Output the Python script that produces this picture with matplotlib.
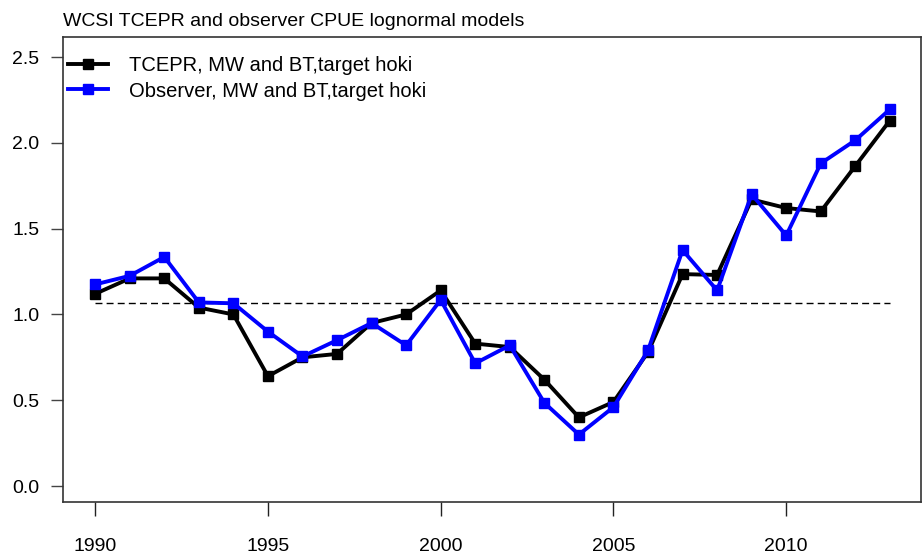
#!/usr/bin/env python3
import numpy as np
import matplotlib
matplotlib.use("Agg")
import matplotlib.pyplot as plt
from matplotlib.ticker import FormatStrFormatter

years = list(range(1990, 2014))

# TCEPR index, MW and BT, target hoki
tcepr = [1.12, 1.21, 1.21, 1.04, 1.00, 0.64, 0.75, 0.77, 0.95, 1.00, 1.14, 0.83,
         0.81, 0.62, 0.40, 0.49, 0.78, 1.235, 1.23, 1.67, 1.62, 1.60, 1.865, 2.13]
# Observer index, MW and BT, target hoki
observer = [1.175, 1.225, 1.335, 1.07, 1.065, 0.90, 0.755, 0.85, 0.95, 0.82, 1.085, 0.715,
            0.82, 0.485, 0.30, 0.46, 0.79, 1.375, 1.14, 1.70, 1.46, 1.88, 2.015, 2.195]
ref_level = 1.067

series_labels = ["TCEPR, MW and BT,target hoki", "Observer, MW and BT,target hoki"]
title = "WCSI TCEPR and observer CPUE lognormal models"

plt.rcParams["font.family"] = ["Liberation Sans", "DejaVu Sans"]

fig = plt.figure(figsize=(9.23, 5.57), dpi=100)
ax = fig.add_axes([0.0683, 0.0987, 0.9295, 0.835])

ax.plot([years[0], years[-1]], [ref_level, ref_level], color="black", lw=1,
        linestyle=(0, (5, 3)))
ax.plot(years, tcepr, color="black", lw=2.8, marker="s", markersize=7.5,
        label=series_labels[0])
ax.plot(years, observer, color="#0000ff", lw=2.8, marker="s", markersize=7.5,
        label=series_labels[1])

ax.set_xlim(1989.07, 2013.9)
ax.set_ylim(-0.093, 2.617)
ax.set_xticks([1990, 1995, 2000, 2005, 2010])
ax.set_yticks([0.0, 0.5, 1.0, 1.5, 2.0, 2.5])
ax.yaxis.set_major_formatter(FormatStrFormatter("%.1f"))
ax.tick_params(axis="y", length=9, width=1, pad=8, labelsize=14, color="#444444")
ax.tick_params(axis="x", length=10, width=1, pad=16, labelsize=14, color="#222222")
for s in ax.spines.values():
    s.set_color("#333333")
    s.set_linewidth(1.2)

fig.text(0.0683, 0.962, title, fontsize=14, ha="left", va="center")

ax.legend(loc="upper left", bbox_to_anchor=(0.006, 0.958), frameon=False,
          fontsize=14.5, handlelength=2.0, handletextpad=1.0, borderaxespad=0,
          labelspacing=0.3, borderpad=0)

fig.savefig("out.png", dpi=100)
